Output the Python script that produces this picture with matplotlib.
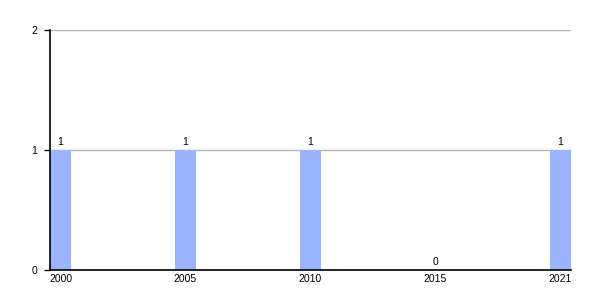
import matplotlib
matplotlib.use("Agg")
import matplotlib.pyplot as plt

# --- data ---
years = ["2000", "2005", "2010", "2015", "2021"]
counts = [1, 1, 1, 0, 1]

plt.rcParams["font.family"] = ["Liberation Sans", "DejaVu Sans"]

fig = plt.figure(figsize=(6, 3), dpi=100)
ax = fig.add_axes([50 / 600, 30 / 300, 521 / 600, 240 / 300])

bar_w = 0.168
pos = list(range(len(years)))
ax.bar(pos, counts, width=bar_w, align="edge", color="#99b3ff", zorder=2)

for x, v in zip(pos, counts):
    ax.text(x + bar_w / 2, v + 0.025, str(v), ha="center", va="bottom", fontsize=7.5)

ax.set_xlim(0, len(years) - 1 + bar_w)
ax.set_ylim(0, 2)
ax.set_yticks([0, 1, 2])
ax.set_xticks([p + bar_w / 2 for p in pos])
ax.set_xticklabels(years)
ax.tick_params(axis="x", length=0, pad=3, labelsize=7.5)
ax.tick_params(axis="y", length=4, width=1, pad=5, labelsize=7.5)
ax.grid(axis="y", color="#b3b3b3", linewidth=1, zorder=1)
ax.set_axisbelow(True)

for s in ["top", "right"]:
    ax.spines[s].set_visible(False)
for s in ["left", "bottom"]:
    ax.spines[s].set_linewidth(1.2)
    ax.spines[s].set_zorder(3)

fig.savefig("out.png", dpi=100)
